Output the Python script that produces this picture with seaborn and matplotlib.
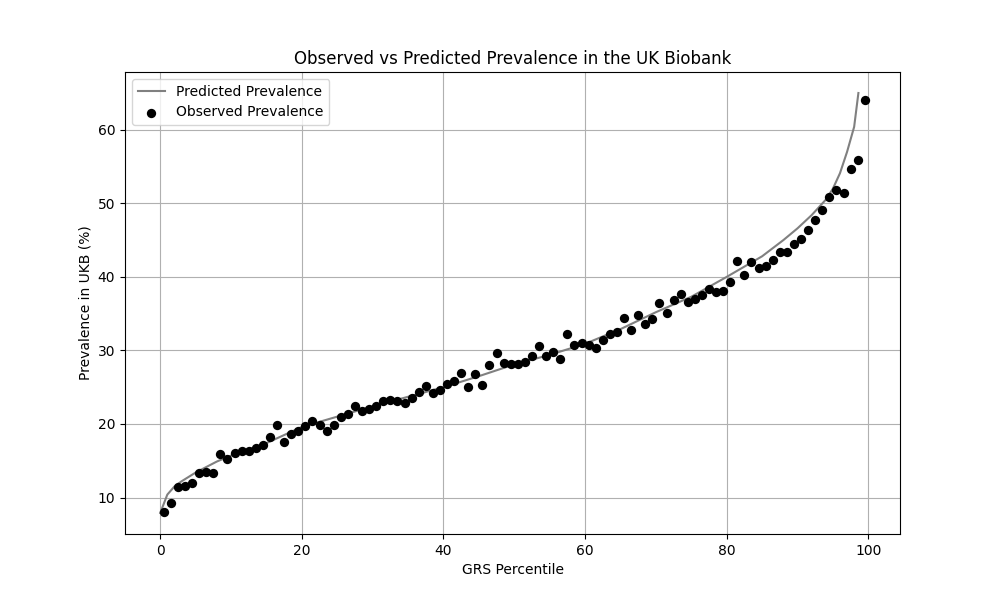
import matplotlib
matplotlib.use("Agg")
import matplotlib.pyplot as plt
import seaborn as sns
import numpy as np

# Observed prevalence at GRS percentile midpoints
obs_x = [i + 0.5 for i in range(100)]
obs_y = [
    8.0, 9.2, 11.4, 11.6, 12.0, 13.4, 13.5, 13.4, 15.9, 15.2,
    16.0, 16.3, 16.3, 16.8, 17.2, 18.2, 19.9, 17.6, 18.7, 19.1,
    19.7, 20.4, 19.8, 19.0, 19.8, 20.9, 21.3, 22.5, 21.7, 22.1,
    22.5, 23.1, 23.3, 23.1, 22.8, 23.6, 24.3, 25.1, 24.2, 24.6,
    25.5, 25.9, 26.9, 25.0, 26.8, 25.3, 28.0, 29.6, 28.3, 28.1,
    28.1, 28.4, 29.3, 30.6, 29.2, 29.8, 28.9, 32.2, 30.8, 31.0,
    30.7, 30.4, 31.4, 32.3, 32.5, 34.4, 32.8, 34.8, 33.6, 34.3,
    36.4, 35.1, 36.8, 37.7, 36.6, 37.0, 37.5, 38.3, 37.9, 38.1,
    39.3, 42.2, 40.3, 42.0, 41.2, 41.5, 42.3, 43.4, 43.4, 44.5,
    45.2, 46.4, 47.7, 49.1, 50.9, 51.8, 51.4, 54.7, 55.9, 64.1,
]

# Predicted prevalence curve
pred_x = [0, 1, 2, 3, 4, 5, 6, 8, 10, 12, 15, 20, 25, 30, 35, 40, 45, 50,
          55, 60, 65, 70, 75, 80, 85, 88, 90, 92, 94, 95, 96, 97, 98, 98.6]
pred_y = [7.9, 10.4, 11.5, 12.2, 12.8, 13.4, 13.9, 14.9, 15.7, 16.4, 17.4,
          19.6, 21.0, 22.4, 23.7, 25.0, 26.5, 28.1, 29.4, 30.9, 32.9, 35.2,
          37.3, 40.0, 42.8, 45.0, 46.6, 48.4, 50.5, 52.0, 54.1, 57.0, 60.4, 65.0]

fig, ax = plt.subplots(figsize=(10, 6), dpi=100)
sns.lineplot(x=pred_x, y=pred_y, ax=ax, color="gray", linewidth=1.5,
             label="Predicted Prevalence")
sns.scatterplot(x=obs_x, y=obs_y, ax=ax, color="black", edgecolor="black",
                linewidth=0, s=45, label="Observed Prevalence", zorder=3)

ax.set_title("Observed vs Predicted Prevalence in the UK Biobank")
ax.set_xlabel("GRS Percentile")
ax.set_ylabel("Prevalence in UKB (%)")
ax.grid(True)
ax.legend(loc="upper left")

fig.savefig("out.png", dpi=100)
